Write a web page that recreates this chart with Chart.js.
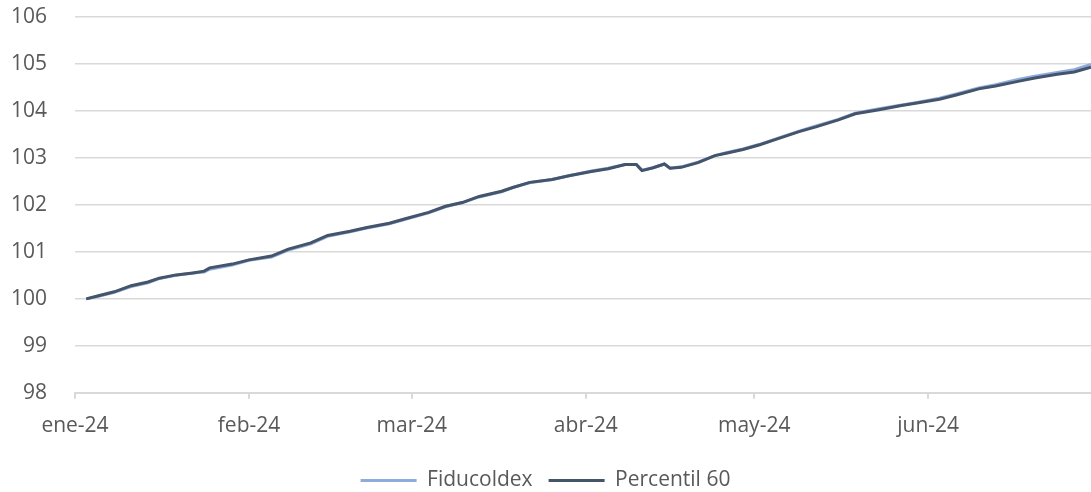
<!DOCTYPE html>
<html>
<head>
<meta charset="utf-8">
<script src="https://cdn.jsdelivr.net/npm/chart.js@4.4.1/dist/chart.umd.min.js"></script>
<style>
  html, body { margin:0; padding:0; background:#fff; }
  #wrap { width:1091px; height:492px; position:relative; }
</style>
</head>
<body>
<div id="wrap"><canvas id="chart"></canvas></div>
<script>
// fechas (aprox.)
const dates = [
  '2024-01-03','2024-01-05','2024-01-08','2024-01-11','2024-01-14','2024-01-16','2024-01-19','2024-01-22',
  '2024-01-24','2024-01-25','2024-01-29','2024-02-01','2024-02-05','2024-02-08','2024-02-12','2024-02-15',
  '2024-02-19','2024-02-22','2024-02-26','2024-02-29','2024-03-04','2024-03-07','2024-03-10','2024-03-13',
  '2024-03-17','2024-03-19','2024-03-22','2024-03-26','2024-03-29','2024-04-02','2024-04-05','2024-04-08',
  '2024-04-10','2024-04-11','2024-04-13','2024-04-15','2024-04-16','2024-04-18','2024-04-21','2024-04-24',
  '2024-04-26','2024-04-29','2024-05-02','2024-05-05','2024-05-09','2024-05-12','2024-05-16','2024-05-19',
  '2024-05-23','2024-05-27','2024-05-30','2024-06-03','2024-06-06','2024-06-10','2024-06-13','2024-06-17',
  '2024-06-20','2024-06-24','2024-06-27','2024-06-30'
];

const percentil60 = [
  100.00,100.06,100.15,100.28,100.36,100.44,100.51,100.55,
  100.59,100.66,100.74,100.83,100.91,101.06,101.19,101.35,
  101.44,101.52,101.61,101.71,101.84,101.97,102.05,102.18,
  102.29,102.37,102.48,102.54,102.62,102.71,102.77,102.86,
  102.86,102.73,102.79,102.87,102.78,102.80,102.90,103.05,
  103.10,103.18,103.28,103.40,103.56,103.66,103.81,103.94,
  104.02,104.11,104.17,104.25,104.34,104.47,104.53,104.63,
  104.70,104.78,104.83,104.93
];

const fiducoldex = [
  100.00,100.05,100.14,100.26,100.34,100.43,100.50,100.55,
  100.57,100.63,100.72,100.82,100.89,101.04,101.17,101.33,
  101.43,101.51,101.60,101.70,101.83,101.96,102.05,102.17,
  102.28,102.37,102.47,102.54,102.62,102.72,102.78,102.86,
  102.86,102.74,102.79,102.87,102.78,102.81,102.91,103.05,
  103.11,103.19,103.29,103.41,103.57,103.68,103.82,103.95,
  104.04,104.12,104.18,104.27,104.36,104.49,104.56,104.67,
  104.74,104.82,104.88,104.99
];

const monthTicks = ['2024-01-01','2024-02-01','2024-03-01','2024-04-01','2024-05-01','2024-06-01'];
const monthLabels = ['ene-24','feb-24','mar-24','abr-24','may-24','jun-24'];

const yMin = 98, yMax = 106;
const xEnd = '2024-06-30';

const day0 = Date.UTC(2024, 0, 1);
function toDay(s) {
  const p = s.split('-').map(Number);
  return Math.round((Date.UTC(p[0], p[1] - 1, p[2]) - day0) / 86400000);
}
const tickDays = monthTicks.map(toDay);

const FONT = '"Open Sans", "Liberation Sans", sans-serif';
const TXT = '#595959';
const GRID = '#d9d9d9';

new Chart(document.getElementById('chart'), {
  type: 'line',
  data: {
    datasets: [
      {
        label: 'Fiducoldex',
        data: dates.map((d, i) => ({x: toDay(d), y: fiducoldex[i]})),
        borderColor: '#8faadc',
        backgroundColor: '#8faadc',
        borderWidth: 3,
        pointRadius: 0,
        tension: 0,
        order: 1
      },
      {
        label: 'Percentil 60',
        data: dates.map((d, i) => ({x: toDay(d), y: percentil60[i]})),
        borderColor: '#44546a',
        backgroundColor: '#44546a',
        borderWidth: 3,
        pointRadius: 0,
        tension: 0,
        order: 0
      }
    ]
  },
  options: {
    responsive: true,
    maintainAspectRatio: false,
    animation: false,
    layout: { padding: { top: 17, right: 0, left: 0, bottom: -9 } },
    scales: {
      x: {
        type: 'linear',
        min: 0,
        max: toDay(xEnd),
        afterBuildTicks: axis => { axis.ticks = tickDays.map(v => ({value: v})); },
        ticks: {
          autoSkip: false,
          maxRotation: 0,
          color: TXT,
          font: { family: FONT, size: 21 },
          padding: 15,
          callback: v => monthLabels[tickDays.indexOf(v)]
        },
        grid: { drawOnChartArea: false, drawTicks: true, tickLength: 6, color: GRID, lineWidth: 2 },
        border: { color: GRID, width: 2 }
      },
      y: {
        min: yMin,
        max: yMax,
        afterFit: axis => { axis.width = 75; axis.paddingTop = 0; axis.paddingBottom = 0; },
        ticks: {
          stepSize: 1,
          color: TXT,
          font: { family: FONT, size: 21 },
          padding: 28
        },
        grid: { color: GRID, lineWidth: 1.5, drawTicks: false },
        border: { display: false }
      }
    },
    plugins: {
      legend: {
        position: 'bottom',
        labels: {
          usePointStyle: true,
          pointStyle: 'line',
          pointStyleWidth: 56,
          color: TXT,
          font: { family: FONT, size: 21 },
          padding: 16,
          sort: (a, b) => a.datasetIndex - b.datasetIndex
        }
      },
      tooltip: { enabled: false }
    }
  }
});
</script>
</body>
</html>
